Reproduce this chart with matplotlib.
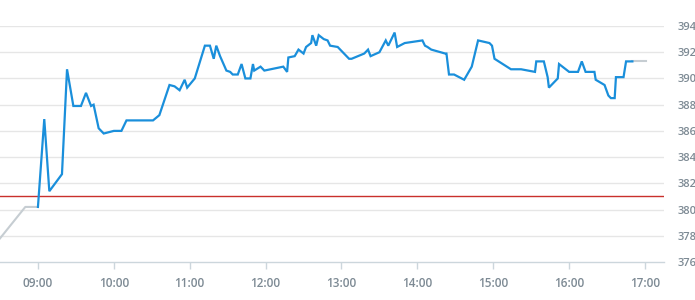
import datetime

import matplotlib.pyplot as plt
import matplotlib.dates as mdates

# Pre-market (grey) and session (blue) price series
pre_times = ['08:30', '08:50', '09:00']
pre_values = [377.8, 380.2, 380.2]

times = ['09:00', '09:05', '09:09', '09:19', '09:23', '09:28', '09:34', '09:38',
         '09:42', '09:44', '09:48', '09:52', '10:00', '10:06', '10:10', '10:31',
         '10:36', '10:44', '10:48', '10:52', '10:56', '10:58', '11:04', '11:12',
         '11:16', '11:19', '11:21', '11:24', '11:29', '11:32', '11:34', '11:38',
         '11:41', '11:44', '11:48', '11:50', '11:51', '11:56', '11:59', '12:14',
         '12:17', '12:18', '12:23', '12:26', '12:30', '12:32', '12:36', '12:37',
         '12:40', '12:42', '12:46', '12:49', '12:51', '12:57', '13:03', '13:06',
         '13:08', '13:18', '13:21', '13:23', '13:30', '13:35', '13:37', '13:42',
         '13:44', '13:50', '14:04', '14:06', '14:08', '14:11', '14:22', '14:23',
         '14:25', '14:29', '14:37', '14:43', '14:48', '14:57', '14:59', '15:01',
         '15:14', '15:22', '15:33', '15:34', '15:40', '15:43', '15:44', '15:51',
         '15:52', '16:00', '16:07', '16:10', '16:13', '16:20', '16:21', '16:28',
         '16:31', '16:33', '16:36', '16:37', '16:43', '16:45', '16:50']
values = [380.2, 386.9, 381.4, 382.7, 390.7, 387.9, 387.9, 388.9,
          387.9, 388.0, 386.2, 385.8, 386.0, 386.0, 386.8, 386.8,
          387.2, 389.5, 389.4, 389.1, 389.9, 389.3, 390.0, 392.5,
          392.5, 391.5, 392.5, 391.7, 390.6, 390.5, 390.3, 390.3,
          391.1, 390.0, 390.0, 391.1, 390.6, 390.9, 390.6, 390.9,
          390.5, 391.6, 391.7, 392.2, 391.9, 392.4, 392.7, 393.3,
          392.5, 393.3, 393.0, 392.9, 392.5, 392.4, 391.8, 391.5,
          391.5, 391.9, 392.2, 391.7, 392.0, 392.9, 392.5, 393.5,
          392.4, 392.7, 392.9, 392.5, 392.4, 392.2, 391.9, 391.9,
          390.3, 390.3, 389.9, 390.9, 392.9, 392.7, 392.5, 391.5,
          390.7, 390.7, 390.5, 391.3, 391.3, 390.1, 389.3, 390.0,
          391.1, 390.5, 390.5, 391.3, 390.5, 390.5, 389.9, 389.5,
          388.7, 388.5, 388.5, 390.1, 390.1, 391.3, 391.3]

post_times = ['16:50', '17:01']
post_values = [391.3, 391.3]

reference_level = 381.0
y_ticks = [376, 378, 380, 382, 384, 386, 388, 390, 392, 394]
x_ticks = ['09:00', '10:00', '11:00', '12:00', '13:00', '14:00', '15:00', '16:00', '17:00']
x_limits = ['08:30', '17:15']


def to_dt(labels):
    return [datetime.datetime.combine(datetime.date(2024, 1, 2),
                                      datetime.datetime.strptime(s, '%H:%M').time())
            for s in labels]


fig = plt.figure(figsize=(6.95, 3.0), dpi=100)
ax = fig.add_axes([0.0, 38 / 300, 664 / 695, 236 / 300])

label_color = '#7d8a94'
grid_color = '#e6e6e6'

for v in y_ticks[1:]:
    ax.axhline(v, color=grid_color, linewidth=1.0, zorder=0)

ax.axhline(reference_level, color='#c9302c', linewidth=1.0, zorder=1)
ax.plot(to_dt(pre_times), pre_values, color='#c6cdd2', linewidth=1.5, zorder=2)
ax.plot(to_dt(post_times), post_values, color='#c6cdd2', linewidth=1.5, zorder=2)
ax.plot(to_dt(times), values, color='#1a8fdb', linewidth=1.6, zorder=3,
        solid_joinstyle='miter')

ax.set_ylim(y_ticks[0], y_ticks[-1])
xl = to_dt(x_limits)
ax.set_xlim(xl[0], xl[1])

for side in ['top', 'left', 'right']:
    ax.spines[side].set_visible(False)
ax.spines['bottom'].set_color('#ccd6dc')
ax.spines['bottom'].set_linewidth(1.0)

ax.set_xticks(to_dt(x_ticks))
ax.xaxis.set_major_formatter(mdates.DateFormatter('%H:%M'))
ax.tick_params(axis='x', length=5, width=1, color='#ccd6dc', pad=5.5,
               labelsize=8.5, labelcolor=label_color)

ax.yaxis.tick_right()
ax.set_yticks(y_ticks)
ax.set_yticklabels([str(v) for v in y_ticks])
ax.tick_params(axis='y', length=0, pad=9.5, labelsize=8, labelcolor=label_color)

for lbl in ax.get_xticklabels() + ax.get_yticklabels():
    lbl.set_fontfamily('Open Sans')
    lbl.set_fontweight('semibold')

fig.savefig('out.png', dpi=100)
